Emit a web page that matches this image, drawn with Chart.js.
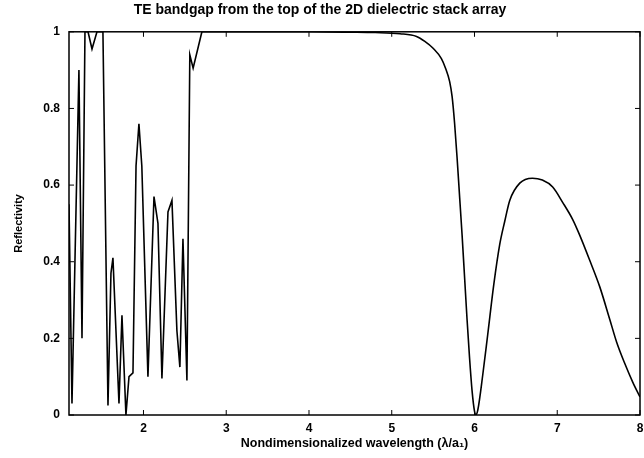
<!DOCTYPE html>
<html>
<head>
<meta charset="utf-8">
<script src="https://cdn.jsdelivr.net/npm/chart.js@4"></script>
<style>
  html, body { margin: 0; padding: 0; background: #fff; }
  #wrap { width: 644px; height: 458px; }
</style>
</head>
<body>
<div id="wrap"><canvas id="chart"></canvas></div>
<script>
const chartTitle = "TE bandgap from the top of the 2D dielectric stack array";
const xLabel = "Nondimensionalized wavelength (\u03bb/a\u2081)";
const yLabel = "Reflectivity";

const xTicks = [2, 3, 4, 5, 6, 7, 8];
const yTicks = [0, 0.2, 0.4, 0.6, 0.8, 1];

// oscillating short-wavelength part (straight segments)
const wavelengthShort = [
  1.10, 1.136, 1.22, 1.257, 1.293, 1.33, 1.378, 1.438, 1.51, 1.571,
  1.607, 1.631, 1.704, 1.74, 1.788, 1.825, 1.873, 1.91, 1.945, 1.98,
  2.054, 2.127, 2.175, 2.223, 2.296, 2.344, 2.404, 2.44, 2.477, 2.525,
  2.56, 2.60, 2.706
];
const reflectivityShort = [
  0.55, 0.03, 0.90, 0.20, 1.0, 1.0, 0.955, 1.0, 1.0, 0.025,
  0.37, 0.41, 0.03, 0.26, 0.0, 0.10, 0.11, 0.65, 0.76, 0.65,
  0.10, 0.57, 0.50, 0.095, 0.53, 0.56, 0.22, 0.125, 0.46, 0.09,
  0.94, 0.905, 1.0
];

// smooth long-wavelength part
const wavelengthLong = [
  2.706, 3.0, 3.5, 4.0, 4.5, 4.8, 5.1, 5.3, 5.4, 5.5,
  5.6, 5.65, 5.7, 5.73, 5.76, 5.79, 5.82, 5.85, 5.88, 5.91,
  5.94, 5.97, 6.0, 6.016, 6.04, 6.10, 6.16, 6.233, 6.305, 6.365,
  6.426, 6.547, 6.70, 6.82, 6.945, 7.065, 7.187, 7.27, 7.39, 7.513,
  7.634, 7.718, 7.815, 7.912, 8.0
];
const reflectivityLong = [
  1.0, 1.0, 1.0, 1.0, 0.999, 0.998, 0.995, 0.988, 0.975, 0.957,
  0.93, 0.905, 0.87, 0.83, 0.76, 0.67, 0.57, 0.47, 0.36, 0.25,
  0.15, 0.065, 0.01, 0.0, 0.013, 0.105, 0.21, 0.34, 0.445, 0.505,
  0.56, 0.605, 0.618, 0.613, 0.595, 0.555, 0.51, 0.47, 0.405, 0.335,
  0.25, 0.19, 0.135, 0.086, 0.047
];

const toPoints = (xs, ys) => xs.map((x, i) => ({ x, y: ys[i] }));

const family = "'Liberation Sans', Arial, sans-serif";
const tickFont = { family, weight: "bold", size: 12 };
const titleFont = { family, weight: "bold", size: 14 };
const xTitleFont = { family, weight: "bold", size: 12.5 };
const yTitleFont = { family, weight: "bold", size: 11 };

// matlab style box with inward ticks
const boxTicks = {
  id: "boxTicks",
  afterDraw(chart) {
    const { ctx, chartArea: a, scales } = chart;
    const len = 5;
    ctx.save();
    ctx.strokeStyle = "#000";
    ctx.lineWidth = 1.5;
    ctx.strokeRect(a.left, a.top, a.right - a.left, a.bottom - a.top);
    ctx.lineWidth = 1;
    ctx.beginPath();
    scales.x.ticks.forEach((t) => {
      const px = scales.x.getPixelForValue(t.value);
      ctx.moveTo(px, a.bottom);
      ctx.lineTo(px, a.bottom - len);
      ctx.moveTo(px, a.top);
      ctx.lineTo(px, a.top + len);
    });
    scales.y.ticks.forEach((t) => {
      const py = scales.y.getPixelForValue(t.value);
      ctx.moveTo(a.left, py);
      ctx.lineTo(a.left + len, py);
      ctx.moveTo(a.right, py);
      ctx.lineTo(a.right - len, py);
    });
    ctx.stroke();
    ctx.restore();
  },
};

new Chart(document.querySelector("#chart"), {
  type: "line",
  data: {
    datasets: [
      {
        data: toPoints(wavelengthShort, reflectivityShort),
        borderColor: "#000",
        borderWidth: 1.6,
        pointRadius: 0,
        tension: 0,
        fill: false,
      },
      {
        data: toPoints(wavelengthLong, reflectivityLong),
        borderColor: "#000",
        borderWidth: 1.6,
        pointRadius: 0,
        cubicInterpolationMode: "monotone",
        fill: false,
      },
    ],
  },
  options: {
    responsive: true,
    maintainAspectRatio: false,
    animation: false,
    layout: { padding: { left: 0, right: 4, top: 0, bottom: 0 } },
    scales: {
      x: {
        type: "linear",
        min: 1.1,
        max: 8,
        afterBuildTicks: (scale) => {
          scale.ticks = xTicks.map((v) => ({ value: v }));
        },
        afterFit: (scale) => {
          scale.height = 43;
          scale.paddingLeft = 0;
          scale.paddingRight = 0;
        },
        grid: { display: false, drawTicks: false },
        border: { display: false },
        ticks: {
          color: "#000",
          font: tickFont,
          padding: 6,
          maxRotation: 0,
        },
        title: {
          display: true,
          text: xLabel,
          color: "#000",
          font: xTitleFont,
          padding: { top: 1, bottom: 7 },
        },
      },
      y: {
        min: 0,
        max: 1,
        afterBuildTicks: (scale) => {
          scale.ticks = yTicks.map((v) => ({ value: v }));
        },
        afterFit: (scale) => {
          scale.width = 69;
          scale.paddingTop = 0;
          scale.paddingBottom = 0;
        },
        grid: { display: false, drawTicks: false },
        border: { display: false },
        ticks: {
          color: "#000",
          font: tickFont,
          padding: 9,
          callback: (v) => String(v),
        },
        title: {
          display: true,
          text: yLabel,
          color: "#000",
          font: yTitleFont,
          padding: { top: 12, bottom: 0 },
        },
      },
    },
    plugins: {
      legend: { display: false },
      tooltip: { enabled: false },
      title: {
        display: true,
        text: chartTitle,
        color: "#000",
        font: titleFont,
        padding: { top: 2, bottom: 13 },
      },
    },
  },
  plugins: [boxTicks],
});
</script>
</body>
</html>
